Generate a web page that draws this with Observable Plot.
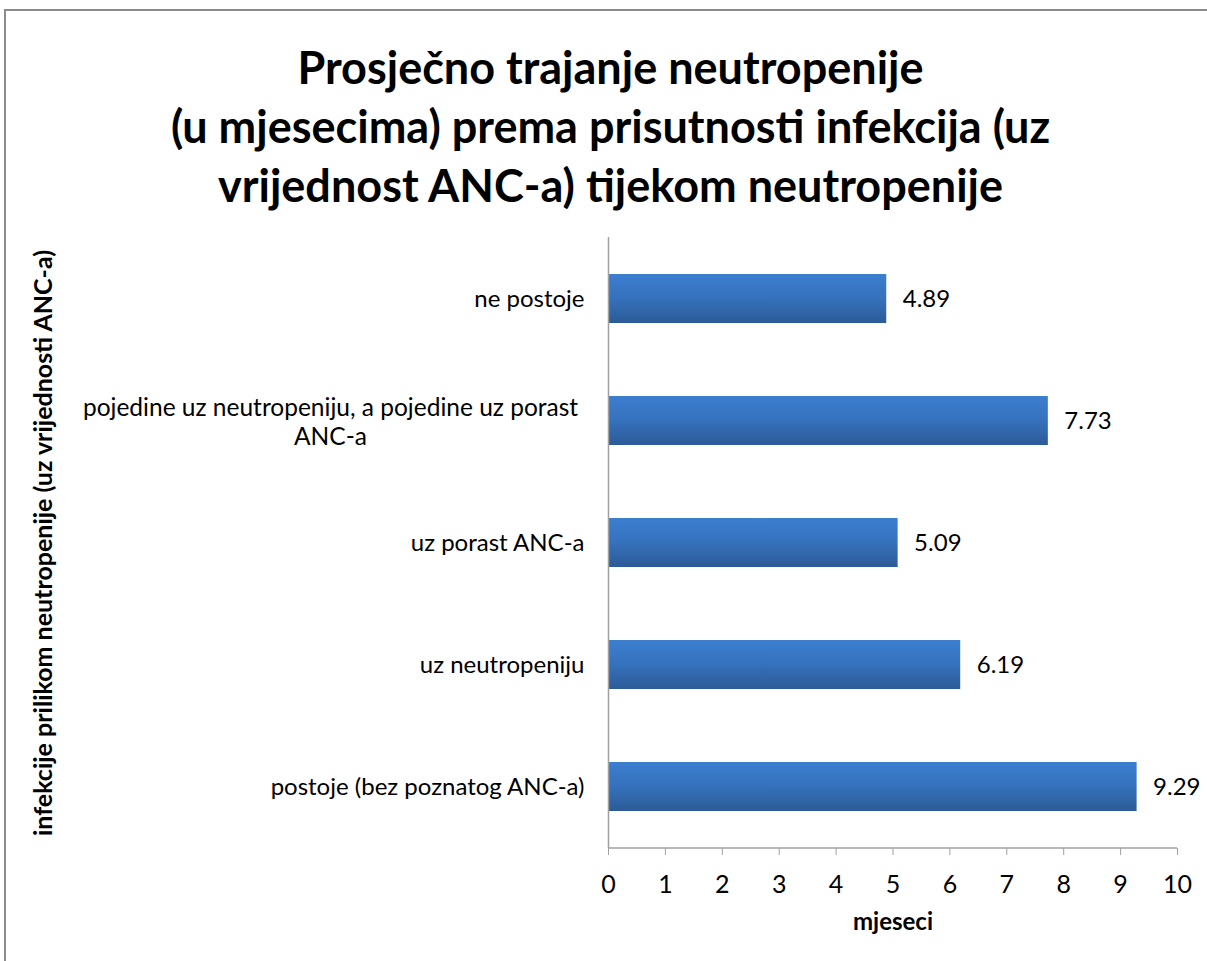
<!DOCTYPE html>
<html>
<head>
<meta charset="utf-8">
<script src="https://cdn.jsdelivr.net/npm/d3@7"></script>
<script src="https://cdn.jsdelivr.net/npm/@observablehq/plot@0.6"></script>
<style>
  html, body { margin: 0; padding: 0; background: #fff; overflow: hidden; width: 1207px; height: 961px; }
  body { font-family: Lato, "Open Sans", sans-serif; position: relative; }
  #frame { position: absolute; left: 4px; top: 9px; width: 1215px; height: 965px; border: 2px solid #8c8c8c; box-sizing: border-box; }
  #title { position: absolute; left: 4px; width: 1213px; top: 38px; text-align: center; font-weight: 700; font-size: 45px; line-height: 59px; color: #000; }
  #chart { position: absolute; left: 0; top: 220px; }
  #chart svg { overflow: visible; }
</style>
</head>
<body>
<div id="frame"></div>
<div id="title">Prosječno trajanje neutropenije<br>(u mjesecima) prema prisutnosti infekcija (uz<br>vrijednost ANC-a) tijekom neutropenije</div>
<div id="chart"></div>
<script>
const categories = [
  "ne postoje",
  "pojedine uz neutropeniju, a pojedine uz porast ANC-a",
  "uz porast ANC-a",
  "uz neutropeniju",
  "postoje (bez poznatog ANC-a)"
];
const categoryLines = [
  "ne postoje",
  "pojedine uz neutropeniju, a pojedine uz porast\nANC-a",
  "uz porast ANC-a",
  "uz neutropeniju",
  "postoje (bez poznatog ANC-a)"
];
const values = [4.89, 7.73, 5.09, 6.19, 9.29];
const xTicks = [0, 1, 2, 3, 4, 5, 6, 7, 8, 9, 10];
const xLabel = "mjeseci";
const yLabel = "infekcije prilikom neutropenije (uz vrijednosti ANC-a)";

const data = categories.map((c, i) => ({category: c, lines: categoryLines[i], value: values[i], wrapped: categoryLines[i].includes("\n")}));

const FONT = "Lato, 'Open Sans', sans-serif";

const plot = Plot.plot({
  width: 1207,
  height: 740,
  marginLeft: 608,
  marginRight: 30,
  marginTop: 17,
  marginBottom: 112,
  style: {fontFamily: FONT, background: "transparent", overflow: "visible"},
  x: {domain: [0, 10], axis: null},
  y: {domain: categories, axis: null, paddingInner: 0.6, paddingOuter: 0.3},
  marks: [
    () => {
      const svg = d3.create("svg:g");
      const defs = svg.append("defs");
      const g = defs.append("linearGradient").attr("id", "barGrad").attr("x1", 0).attr("x2", 0).attr("y1", 0).attr("y2", 1);
      g.append("stop").attr("offset", "0%").attr("stop-color", "#3c7ecf");
      g.append("stop").attr("offset", "45%").attr("stop-color", "#3673bf");
      g.append("stop").attr("offset", "100%").attr("stop-color", "#2c5b97");
      const f = defs.append("filter").attr("id", "shadow").attr("x", "-5%").attr("y", "-20%").attr("width", "115%").attr("height", "160%");
      f.append("feDropShadow").attr("dx", 2).attr("dy", 3).attr("stdDeviation", 2).attr("flood-color", "#000").attr("flood-opacity", 0.3);
      return svg.node();
    },
    Plot.barX(data, {x: "value", y: "category", fill: "url(#barGrad)", style: {filter: "url(#shadow)"}}),
    Plot.ruleX([0], {stroke: "#a0a0a0", strokeWidth: 1.5}),
    (index, scales, values, dims) => {
      const y = dims.height - dims.marginBottom;
      return d3.create("svg:line")
        .attr("x1", scales.x(xTicks[0])).attr("x2", scales.x(xTicks[xTicks.length - 1]))
        .attr("y1", y).attr("y2", y)
        .attr("stroke", "#a0a0a0").attr("stroke-width", 1.5).node();
    },
    Plot.axisX(xTicks, {anchor: "bottom", ticks: xTicks, tickSize: 7, tickPadding: 20, fontSize: 25, stroke: "#a0a0a0", color: "#000", label: null, tickFormat: d => String(d)}),
    Plot.text(data.filter(d => !d.wrapped), {y: "category", text: "lines", frameAnchor: "left", textAnchor: "end", dx: -24, fontSize: 24, fill: "#000"}),
    Plot.text(data.filter(d => d.wrapped), {y: "category", text: "lines", frameAnchor: "left", textAnchor: "middle", dx: -278, fontSize: 24.5, lineHeight: 1.2, fill: "#000"}),
    Plot.text(data, {x: "value", y: "category", text: d => d.value.toFixed(2), textAnchor: "start", dx: 16, fontSize: 24, fill: "#000"}),
    Plot.text([xLabel], {frameAnchor: "bottom", text: d => d, dy: 81, fontSize: 24, fontWeight: "bold", fill: "#000"}),
    Plot.text([yLabel], {frameAnchor: "left", textAnchor: "middle", text: d => d, rotate: -90, dx: -565, fontSize: 25, fontWeight: "bold", fill: "#000"})
  ]
});
document.getElementById("chart").appendChild(plot);
</script>
</body>
</html>
